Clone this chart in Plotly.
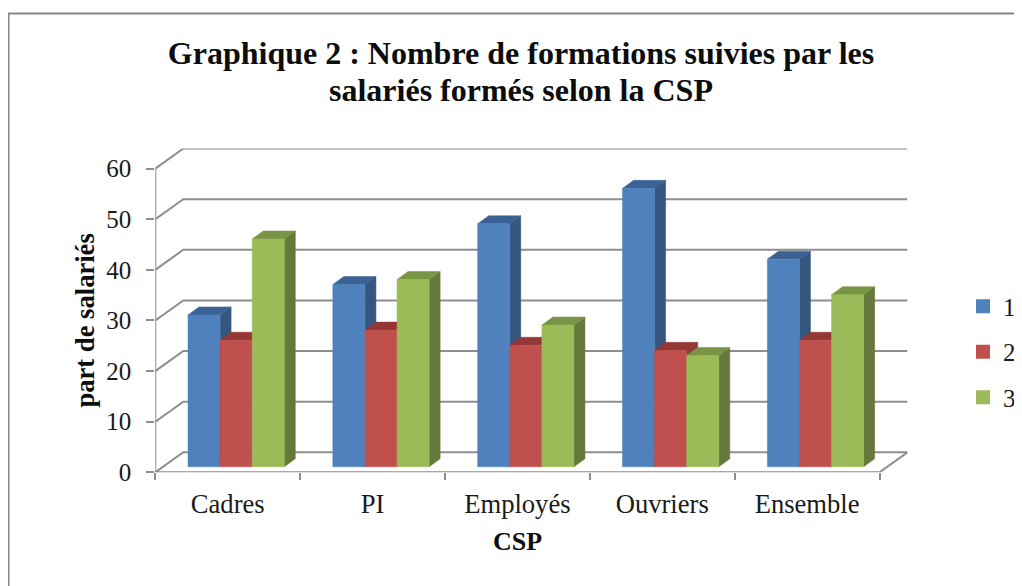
import plotly.graph_objects as go

categories = ["Cadres", "PI", "Employés", "Ouvriers", "Ensemble"]
series_names = ["1", "2", "3"]
series_1 = [30, 36, 48, 55, 41]
series_2 = [25, 27, 24, 23, 25]
series_3 = [45, 37, 28, 22, 34]
y_ticks = [0, 10, 20, 30, 40, 50, 60]

# The page keeps its default 8 px body margin, so all positions are shifted by it
PAGE = 8
W = 1022 - PAGE
FIG_H = 593
H = 578


def px(x):
    return (x - PAGE) / W


def py(y):
    return 1 - (y - PAGE) / H


X0, X1 = 155.3, 879.5          # front axis, px in the picture
Y0, Y60 = 471.5, 168.3         # front value axis, px in the picture
CAT_PX = (X1 - X0) / 5
VAL_PX = (Y0 - Y60) / 60
WALL_DX = 28 / CAT_PX          # depth of the chart box
WALL_DY = 20 / VAL_PX
BAR_DX = 11 / CAT_PX           # depth of one bar
BAR_DY = 8 / VAL_PX
BAR_BASE = 5.5 / VAL_PX
BAR_LEFT = 32.7 / CAT_PX
BAR_W = 32.1 / CAT_PX

GRID = "#8e8e8e"
FONT = "Liberation Serif"
front = ["#4F81BD", "#C0504D", "#9BBB59"]
side = ["#34567F", "#8A3A38", "#66783A"]
top = ["#3B6295", "#953735", "#7A9445"]
values = [series_1, series_2, series_3]

fig = go.Figure()


def line(xs, ys):
    fig.add_trace(go.Scatter(x=xs, y=ys, mode="lines", showlegend=False, hoverinfo="skip",
                             cliponaxis=False, line=dict(color=GRID, width=2)))


def face(xs, ys, color):
    fig.add_trace(go.Scatter(x=xs, y=ys, mode="lines", fill="toself", fillcolor=color,
                             showlegend=False, hoverinfo="skip", cliponaxis=False,
                             line=dict(color=color, width=0.5)))


# Walls and gridlines
for v in y_ticks[1:]:
    line([0, WALL_DX, 5 + WALL_DX], [v, v + WALL_DY, v + WALL_DY])
line([0, WALL_DX, 5 + WALL_DX, 5], [0, WALL_DY, WALL_DY, 0])
line([0, 0], [0, 60])
line([0, 5], [0, 0])

# Bars, left to right so that nearer faces cover earlier ones
for c in range(len(categories)):
    for s in range(3):
        v = values[s][c]
        l = c + BAR_LEFT + s * BAR_W
        r = l + BAR_W
        b = BAR_BASE
        t = BAR_BASE + v
        face([r, r + BAR_DX, r + BAR_DX, r, r], [b, b + BAR_DY, t + BAR_DY, t, b], side[s])
        face([l, l + BAR_DX, r + BAR_DX, r, l], [t, t + BAR_DY, t + BAR_DY, t, t], top[s])
        face([l, r, r, l, l], [b, b, t, t, b], front[s])

# Legend entries
for s, name in enumerate(series_names):
    fig.add_trace(go.Scatter(x=[None], y=[None], mode="markers", name=name, legendgroup=name,
                             marker=dict(symbol="square", size=14, color=front[s])))

fig.update_layout(
    width=W, height=FIG_H, autosize=False,
    margin=dict(l=0, r=0, t=0, b=0),
    paper_bgcolor="white", plot_bgcolor="white",
    font=dict(family=FONT, size=25, color="#1a1a1a"),
    title=dict(text="<b>Graphique 2 : Nombre de formations suivies par les</b>",
               x=px(521), xanchor="center", xref="paper",
               y=py(52.5), yanchor="middle", yref="paper",
               font=dict(family=FONT, size=32, color="#0d0d0d")),
    legend=dict(x=px(963), xanchor="left", y=py(283), yanchor="top",
                font=dict(family=FONT, size=25, color="#1a1a1a"),
                tracegroupgap=10, itemwidth=30, bgcolor="rgba(0,0,0,0)"),
    xaxis=dict(domain=[px(X0), px(X1 + 28)], range=[0, 5 + WALL_DX],
               tickmode="array", tickvals=[i + 0.5 for i in range(5)], ticktext=categories,
               ticks="", showgrid=False, zeroline=False, showline=False, ticklabelstandoff=13,
               tickfont=dict(family=FONT, size=26.6, color="#1a1a1a"),
               minor=dict(tickmode="array", tickvals=list(range(6)), ticks="outside",
                          ticklen=7, tickwidth=2, tickcolor=GRID, showgrid=False)),
    yaxis=dict(domain=[py(Y0), py(Y60 - 20)], range=[0, 60 + WALL_DY],
               tickmode="array", tickvals=y_ticks, ticks="outside", ticklen=8, tickwidth=2,
               tickcolor=GRID, showgrid=False, zeroline=False, showline=False, ticklabelstandoff=10,
               tickfont=dict(family=FONT, size=25, color="#1a1a1a")),
    shapes=[dict(type="line", xref="paper", yref="paper", x0=px(8.5), x1=px(8.5), y0=0, y1=py(13.5),
                 line=dict(color="#868686", width=2)),
            dict(type="line", xref="paper", yref="paper", x0=px(7.5), x1=1, y0=py(13.5), y1=py(13.5),
                 line=dict(color="#868686", width=2))],
    annotations=[
        dict(text="<b>salariés formés selon la CSP</b>", xref="paper", x=px(521), yref="paper", y=py(90),
             showarrow=False, xanchor="center", yanchor="middle",
             font=dict(family=FONT, size=32, color="#0d0d0d")),
        dict(text="<b>CSP</b>", xref="x", x=2.5, yref="paper", y=py(541), showarrow=False,
             xanchor="center", yanchor="middle", font=dict(family=FONT, size=26, color="#0d0d0d")),
        dict(text="<b>part de salariés</b>", xref="paper", x=px(85), yref="paper", y=py(320),
             showarrow=False, textangle=-90, xanchor="center", yanchor="middle",
             font=dict(family=FONT, size=26.6, color="#0d0d0d")),
    ],
)

fig.write_html("out.html")
